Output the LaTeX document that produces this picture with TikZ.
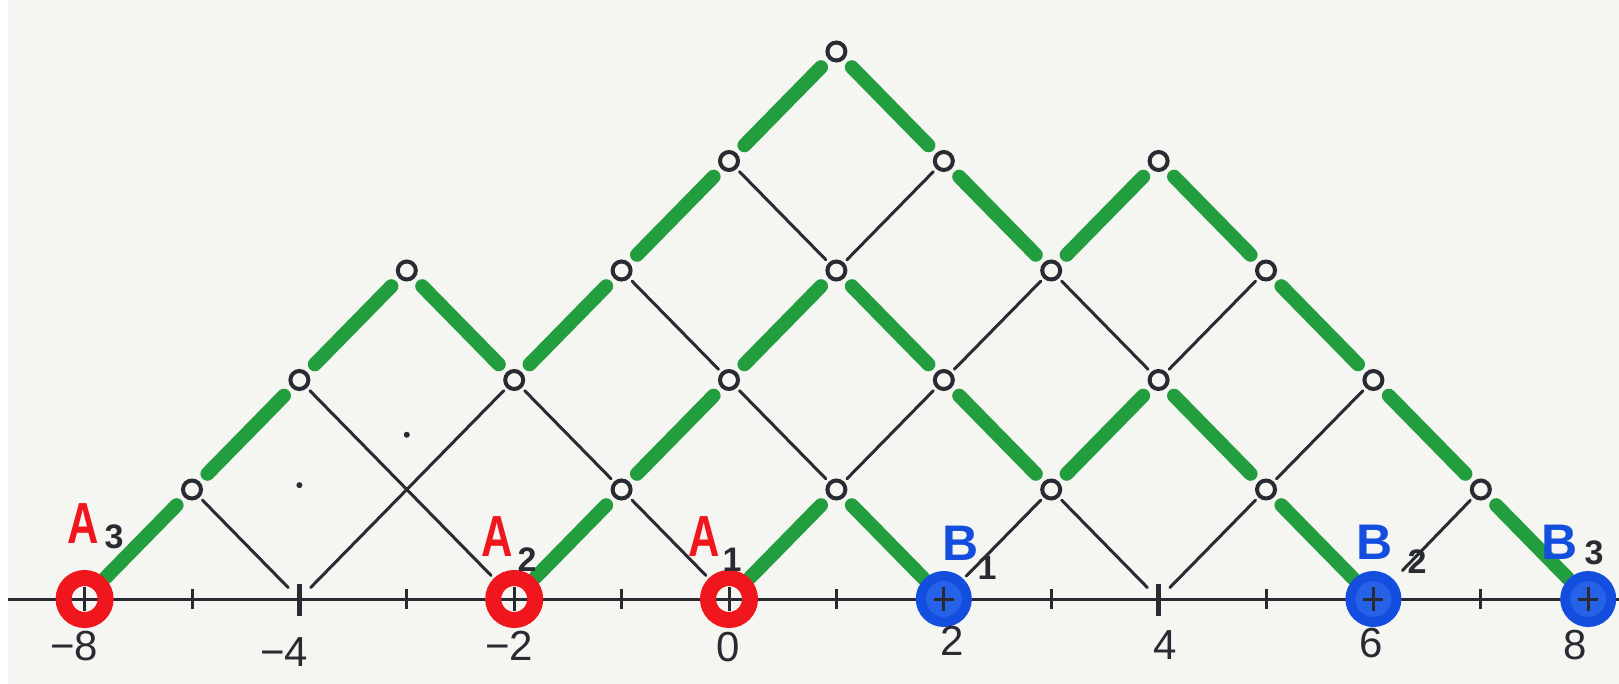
\documentclass[tikz,border=0pt]{standalone}
\usepackage{fontspec}
\usepackage{graphicx}
\setmainfont{Liberation Sans}
\definecolor{paper}{RGB}{245,245,242}
\definecolor{ink}{RGB}{40,44,50}
\definecolor{gmark}{RGB}{35,158,62}
\definecolor{rmark}{RGB}{240,22,30}
\definecolor{bmark}{RGB}{20,78,222}
\definecolor{bfill}{RGB}{38,98,232}
\pgfdeclarelayer{back}
\pgfdeclarelayer{lines}
\pgfsetlayers{back,lines,main}
\begin{document}
\begin{tikzpicture}[x=1pt,y=-1pt,
  lat/.style={circle,draw=ink,line width=4pt,minimum size=18pt,inner sep=0pt},
  redpt/.style={circle,draw=rmark,line width=16pt,minimum size=42pt,inner sep=0pt},
  bluept/.style={circle,draw=bmark,fill=bfill,line width=10pt,minimum size=46pt,inner sep=0pt},
  gseg/.style={draw=gmark,line width=14pt,line cap=round,shorten <=11pt,shorten >=11pt},
  gaxis/.style={draw=gmark,line width=14pt,line cap=round,shorten <=1pt,shorten >=11pt},
  bseg/.style={draw=ink,line width=3pt,line cap=round,shorten <=4pt,shorten >=4pt},
  plusmark/.style={draw=ink,line width=3pt},
  Alab/.style={text=rmark,font=\fontsize{58}{58}\selectfont\bfseries,inner sep=0pt},
  Blab/.style={text=bmark,font=\fontsize{50}{50}\selectfont\bfseries,inner sep=0pt},
  sublab/.style={text=ink,font=\fontsize{34}{34}\selectfont\bfseries,inner sep=0pt},
  numlab/.style={text=ink,font=\fontsize{42}{42}\selectfont,inner sep=0pt},
  speck/.style={circle,fill=ink,inner sep=0pt,minimum size=6pt}
]
\useasboundingbox (0,0) rectangle (1619,684);
\begin{pgfonlayer}{back}
  \fill[white] (0,0) rectangle (1619,684);
  \fill[paper] (8,0) rectangle (1619,684);
\end{pgfonlayer}

% axis
\draw[ink,line width=3pt] (8,599) -- (1619,599);

\begin{scope}[shift={(729,599)},x=107.4pt,y=109.5pt]
  % lattice nodes
  \foreach \u/\h in {-5/1,-1/1,1/1,3/1,5/1,7/1,
                     -4/2,-2/2,0/2,2/2,4/2,6/2,
                     -3/3,-1/3,1/3,3/3,5/3,
                     0/4,2/4,4/4,
                     1/5}
    \node[lat] (v\u x\h) at (\u,\h) {};
  % minor ticks
  \foreach \u in {-5,-3,-1,1,3,5,7}
    \draw[ink,line width=3pt] (\u,0) ++(0,10pt) -- ++(0,-20pt);
  % major ticks
  \coordinate (Tm4) at (-4,0);
  \coordinate (Tp4) at (4,0);
  \draw[ink,line width=4.5pt] (Tm4) ++(0,15pt) -- ++(0,-32pt);
  \draw[ink,line width=4.5pt] (Tp4) ++(0,15pt) -- ++(0,-32pt);
  % marked points
  \node[redpt] (A3) at (-6,0) {};
  \node[redpt] (A2) at (-2,0) {};
  \node[redpt] (A1) at (0,0) {};
  \node[bluept] (B1) at (2,0) {};
  \node[bluept] (B2) at (6,0) {};
  \node[bluept] (B3) at (8,0) {};
  \coordinate (e7) at (6.27,0.26);
  % specks
  \node[speck] (d1) at (-4,1.04) {};
  \node[speck] (d2) at (-3,1.5) {};
\end{scope}

% plus marks
\foreach \p in {A3,A2,A1,B1,B2,B3}{
  \draw[plusmark] ([yshift=-12pt]\p.center) -- ([yshift=12pt]\p.center);
  \draw[plusmark] ([xshift=-10pt]\p.center) -- ([xshift=10pt]\p.center);
}

\begin{pgfonlayer}{lines}
  % green paths
  \foreach \a/\b in {A3/v-5x1, A2/v-1x1, A1/v1x1, B1/v1x1, B2/v5x1, B3/v7x1}
    \draw[gaxis] (\a) -- (\b);
  \foreach \a/\b in {v-5x1/v-4x2, v-4x2/v-3x3, v-3x3/v-2x2, v-2x2/v-1x3,
                     v-1x3/v0x4, v0x4/v1x5, v1x5/v2x4, v2x4/v3x3,
                     v3x3/v4x4, v4x4/v5x3, v5x3/v6x2, v6x2/v7x1,
                     v-1x1/v0x2, v0x2/v1x3, v1x3/v2x2, v2x2/v3x1,
                     v3x1/v4x2, v4x2/v5x1}
    \draw[gseg] (\a) -- (\b);
  % black lattice lines
  \foreach \a/\b in {v-4x2/A2, v-2x2/v-1x1, v-1x1/A1, v-1x3/v0x2, v0x2/v1x1,
                     v0x4/v1x3, v1x3/v2x4, v1x1/v2x2, v2x2/v3x3, B1/v3x1,
                     v3x3/v4x2, v5x1/v6x2, v4x2/v5x3}
    \draw[bseg] (\a) -- (\b);
  \draw[bseg,shorten >=16pt] (v-5x1) -- (Tm4);
  \draw[bseg,shorten <=16pt] (Tm4) -- (v-2x2);
  \draw[bseg,shorten >=16pt] (v3x1) -- (Tp4);
  \draw[bseg,shorten <=16pt] (Tp4) -- (v5x1);
  \draw[bseg,shorten >=0pt] (v7x1) -- (e7);
\end{pgfonlayer}

% point labels
\node[Alab] (lA3) at (83,524) {\scalebox{0.75}[1]{A}};
\node[sublab] (sA3) at (114,537) {3};
\node[Alab] (lA2) at (497,537) {\scalebox{0.75}[1]{A}};
\node[sublab] (sA2) at (527,560) {2};
\node[Alab] (lA1) at (704,537) {\scalebox{0.75}[1]{A}};
\node[sublab] (sA1) at (732,560) {1};
\node[Blab] (lB1) at (961,543) {B};
\node[sublab] (sB1) at (987,568) {1};
\node[Blab] (lB2) at (1375,542) {B};
\node[sublab] (sB2) at (1417,562) {2};
\node[Blab] (lB3) at (1560,542) {B};
\node[sublab] (sB3) at (1594,553) {3};

% axis numbers
\node[numlab] (n1) at (74,646) {−8};
\node[numlab] (n2) at (284,652) {−4};
\node[numlab] (n3) at (509,646) {−2};
\node[numlab] (n4) at (728,647) {0};
\node[numlab] (n5) at (952,641) {2};
\node[numlab] (n6) at (1165,645) {4};
\node[numlab] (n7) at (1371,643) {6};
\node[numlab] (n8) at (1575,645) {8};
\end{tikzpicture}
\end{document}
